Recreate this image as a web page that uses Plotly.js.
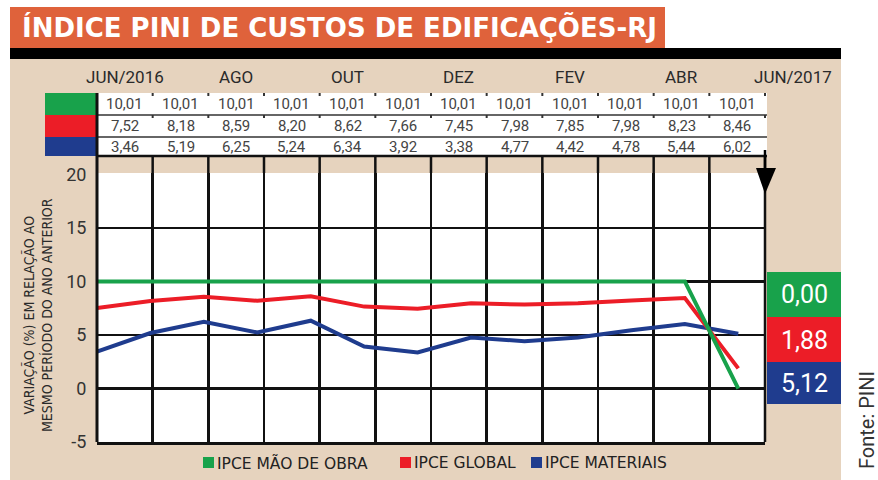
<!DOCTYPE html>
<html>
<head>
<meta charset="utf-8">
<script src="https://cdn.plot.ly/plotly-3.0.1.min.js"></script>
<style>html,body{margin:0;padding:0;background:#fff}#chart{width:878px;height:480px}</style>
</head>
<body>
<div id="chart"></div>
<script>
// ---- data ----
const months = ['JUN/2016','AGO','OUT','DEZ','FEV','ABR','JUN/2017'];
const maoDeObra = [10.01,10.01,10.01,10.01,10.01,10.01,10.01,10.01,10.01,10.01,10.01,10.01];
const global    = [7.52,8.18,8.59,8.20,8.62,7.66,7.45,7.98,7.85,7.98,8.23,8.46];
const materiais = [3.46,5.19,6.25,5.24,6.34,3.92,3.38,4.77,4.42,4.78,5.44,6.02];
const finalMaoDeObra = 0.00;
const finalGlobal = 1.88;
const finalMateriais = 5.12;
const seriesNames = ['IPCE MÃO DE OBRA','IPCE GLOBAL','IPCE MATERIAIS'];
const yTicks = [-5,0,5,10,15,20];
const yTickText = ['-5','0','5','10','15','20'];
const yGrid = [0,5,10,15];

// ---- layout helpers ----
const W=878,H=480,L=97,R=765,T=173,B=442;
const px = x => (x-L)/(R-L);
const py = y => (B-y)/(B-T);
const colW = (R-L)/12;
const col = c => L + c*colW;
const GREEN='#18a24b', RED='#ec1d27', BLUE='#1f3c8e', BEIGE='#e6d3be';
const fmt = v => v.toFixed(2).replace('.',',');
const FONT = 'Roboto, "Open Sans", sans-serif';
const WIDE = '"DejaVu Sans", Verdana, sans-serif';

const nPts = maoDeObra.length + 1;
const xs = Array.from({length:nPts},(_,i)=>i);
const mk = (vals, fin, color, name) => ({
  x: xs, y: vals.concat([fin]), type:'scatter', mode:'lines', name:name,
  line:{color:color,width:4}, hoverinfo:'skip', showlegend:false
});
const traces = [
  mk(materiais, finalMateriais, BLUE, seriesNames[2]),
  mk(global, finalGlobal, RED, seriesNames[1]),
  mk(maoDeObra, finalMaoDeObra, GREEN, seriesNames[0])
];

const shapes = [];
const ann = [];
const rect = (x0,y0,x1,y1,fill,layer) => shapes.push({type:'rect',xref:'paper',yref:'paper',
  x0:px(x0),x1:px(x1),y0:py(y0),y1:py(y1),fillcolor:fill,line:{width:0},layer:layer||'above'});
const line = (x0,y0,x1,y1,color,w) => shapes.push({type:'line',xref:'paper',yref:'paper',
  x0:px(x0),x1:px(x1),y0:py(y0),y1:py(y1),line:{color:color,width:w},layer:'above'});

// backgrounds
rect(10,59,841,480,BEIGE,'below');
rect(L,T,R,B,'#fff','below');
rect(10,7,665,48,'#df623b','below');
rect(10,48,841,59,'#000','below');
// table background
rect(97,93,767,156,'#fff','below');
// swatches
rect(45,93,97,115,GREEN);
rect(45,115,97,137,RED);
rect(45,137,97,156,BLUE);
// table lines
line(97,115,767,115,'#333',1.5);
line(97,137,767,137,'#333',1.5);
line(97,156,767,156,'#111',2.5);
for(let i=1;i<=12;i++){ line(col(i),93,col(i),96,'#333',2); line(col(i),115,col(i),118,'#333',2); }
// vertical grid in beige gap
for(let i=1;i<12;i++){ line(col(i),156,col(i),T,'#111',2.5); }
// borders
line(97,93,97,B,'#111',3);
line(R,156,R,B,'#111',2.5);
// arrow
line(R,150,R,175,'#000',2.5);
shapes.push({type:'path',xref:'paper',yref:'paper',
  path:`M ${px(756)},${py(168)} L ${px(776)},${py(168)} L ${px(765)},${py(194)} Z`,
  fillcolor:'#000',line:{width:0},layer:'above'});
// right value boxes
rect(767,272,841,317,GREEN);
rect(767,317,841,362,RED);
rect(767,362,841,404,BLUE);

// title
ann.push({xref:'paper',yref:'paper',x:px(20),y:py(28),xanchor:'left',yanchor:'middle',showarrow:false,
  text:'<b>ÍNDICE PINI DE CUSTOS DE EDIFICAÇÕES-RJ</b>',font:{family:WIDE,size:26,color:'#fff'}});
// month labels
months.forEach((m,k)=>ann.push({xref:'paper',yref:'paper',x:px(col(2*k+0.5)),y:py(77),xanchor:'center',yanchor:'middle',
  showarrow:false,text:m,font:{family:FONT,size:17,color:'#2a2a2a'}}));
// table cells
const rowsY=[104,126,147];
[maoDeObra,global,materiais].forEach((arr,r)=>arr.forEach((v,i)=>ann.push({xref:'paper',yref:'paper',
  x:px(col(i+0.5)),y:py(rowsY[r]),xanchor:'center',yanchor:'middle',showarrow:false,text:fmt(v),
  font:{family:FONT,size:15,color:'#444'}})));
// final value boxes
[[finalMaoDeObra,294],[finalGlobal,340],[finalMateriais,383]].forEach(([v,y])=>ann.push({xref:'paper',yref:'paper',
  x:px(804),y:py(y),xanchor:'center',yanchor:'middle',showarrow:false,text:fmt(v),
  font:{family:FONT,size:25,color:'#fff'}}));
// y-axis title
ann.push({xref:'paper',yref:'paper',x:px(38),y:py(315),xanchor:'center',yanchor:'middle',showarrow:false,textangle:-90,
  text:'VARIAÇÃO (%) EM RELAÇÃO AO<br>MESMO PERÍODO DO ANO ANTERIOR',
  font:{family:'"Liberation Sans Narrow","DejaVu Sans Condensed",sans-serif',size:14,color:'#2a2a2a'}});
// source
ann.push({xref:'paper',yref:'paper',x:px(867),y:py(420),xanchor:'center',yanchor:'middle',showarrow:false,textangle:-90,
  text:'Fonte: PINI',font:{family:FONT,size:20,color:'#333'}});
// legend
const legItems=[[203,GREEN,seriesNames[0]],[400,RED,seriesNames[1]],[531,BLUE,seriesNames[2]]];
legItems.forEach(([x,c,t])=>{
  rect(x,457,x+11,468,c);
  ann.push({xref:'paper',yref:'paper',x:px(x+12),y:py(463),xanchor:'left',yanchor:'middle',showarrow:false,
    text:t,font:{family:WIDE,size:15.5,color:'#222'}});
});

const layout = {
  width:W,height:H,margin:{l:L,r:W-R,t:T,b:H-B,pad:0},
  paper_bgcolor:'#fff',plot_bgcolor:'#fff',
  showlegend:false,
  xaxis:{range:[0,12.5],showgrid:false,zeroline:false,showticklabels:false,ticks:'',
    showline:true,linecolor:'#111',linewidth:2.5,fixedrange:true,
    minor:{tickmode:'array',tickvals:Array.from({length:11},(_,i)=>(i+1)*12.5/12),showgrid:true,gridcolor:'#111',gridwidth:2.5,ticks:''}},
  yaxis:{range:[-5,20.15],tickmode:'array',tickvals:yTicks,ticktext:yTickText,showgrid:false,zeroline:false,
    ticks:'outside',ticklen:6,tickcolor:'rgba(0,0,0,0)',tickfont:{family:FONT,size:18,color:'#333'},
    showline:false,fixedrange:true,
    minor:{tickmode:'array',tickvals:yGrid,showgrid:true,gridcolor:'#111',gridwidth:2.5,ticks:''}},
  shapes:shapes,annotations:ann
};
Plotly.newPlot('chart',traces,layout,{displayModeBar:false,staticPlot:true});
</script>
</body>
</html>
